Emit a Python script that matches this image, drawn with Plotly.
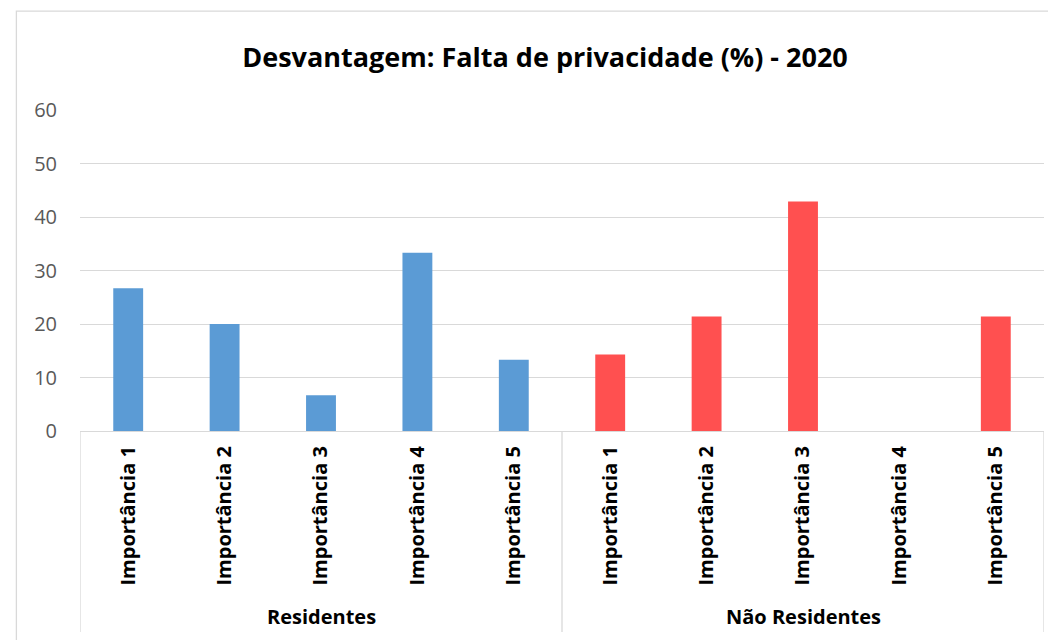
import plotly.graph_objects as go

groups = ["Residentes", "Não Residentes"]
categories = ["Importância 1", "Importância 2", "Importância 3", "Importância 4", "Importância 5"]
residentes = [26.7, 20.0, 6.7, 33.3, 13.3]
nao_residentes = [14.3, 21.4, 42.9, 0.0, 21.4]
y_ticks = [0, 10, 20, 30, 40, 50, 60]
colors = {"Residentes": "#5B9BD5", "Não Residentes": "#FF5050"}

FONT = "'Open Sans', sans-serif"

xkeys = [f"{g}|{c}" for g in groups for c in categories]
ticktext = [c for g in groups for c in categories]

fig = go.Figure()
fig.add_trace(go.Bar(
    x=[f"{groups[0]}|{c}" for c in categories], y=residentes,
    marker=dict(color=colors[groups[0]], line=dict(width=0)), width=0.31,
    showlegend=False, hoverinfo="y"))
fig.add_trace(go.Bar(
    x=[f"{groups[1]}|{c}" for c in categories], y=nao_residentes,
    marker=dict(color=colors[groups[1]], line=dict(width=0)), width=0.31,
    showlegend=False, hoverinfo="y"))

grid = "#D9D9D9"
n = len(xkeys)
for xb in [-0.5, len(categories) - 0.5, n - 0.5]:
    fig.add_shape(type="line", xref="x", yref="paper", x0=xb, x1=xb, y0=0, y1=-0.626,
                  line=dict(color=grid, width=1.3))
for i, g in enumerate(groups):
    center = i * len(categories) + (len(categories) - 1) / 2
    fig.add_annotation(x=center, xref="x", y=-0.579, yref="paper", text=f"<b>{g}</b>",
                       showarrow=False, font=dict(family=FONT, size=20, color="#000000"),
                       yanchor="middle")

fig.add_shape(type="rect", xref="paper", yref="paper", x0=-0.066, x1=1.2, y0=-0.8, y1=1.308,
              line=dict(color=grid, width=1.3), fillcolor="rgba(0,0,0,0)", layer="below")

fig.update_layout(
    width=1048, height=632,
    margin=dict(l=72, r=12, t=102, b=209),
    paper_bgcolor="white", plot_bgcolor="white",
    title=dict(text="<b>Desvantagem: Falta de privacidade (%) - 2020</b>",
               x=537 / 1048, xref="container", xanchor="center",
               y=1 - 50 / 632, yref="container", yanchor="middle",
               font=dict(family=FONT, size=27, color="#000000")),
    font=dict(family=FONT),
)
fig.update_xaxes(
    type="category", categoryorder="array", categoryarray=xkeys,
    tickmode="array", tickvals=xkeys, ticktext=[f"<b>{t}</b>" for t in ticktext],
    tickangle=-90, tickfont=dict(family=FONT, size=20, color="#000000"),
    showline=True, linecolor=grid, linewidth=1.3, ticks="", showgrid=False,
    range=[-0.5, n - 0.5], ticklabelstandoff=6,
)
fig.update_yaxes(
    range=[0, 60], tickvals=y_ticks, showgrid=True, gridcolor=grid, gridwidth=1.3,
    zeroline=False, showline=False, ticks="",
    tickfont=dict(family=FONT, size=20, color="#595959"), ticklabelstandoff=22,
)

fig.write_html("out.html")
